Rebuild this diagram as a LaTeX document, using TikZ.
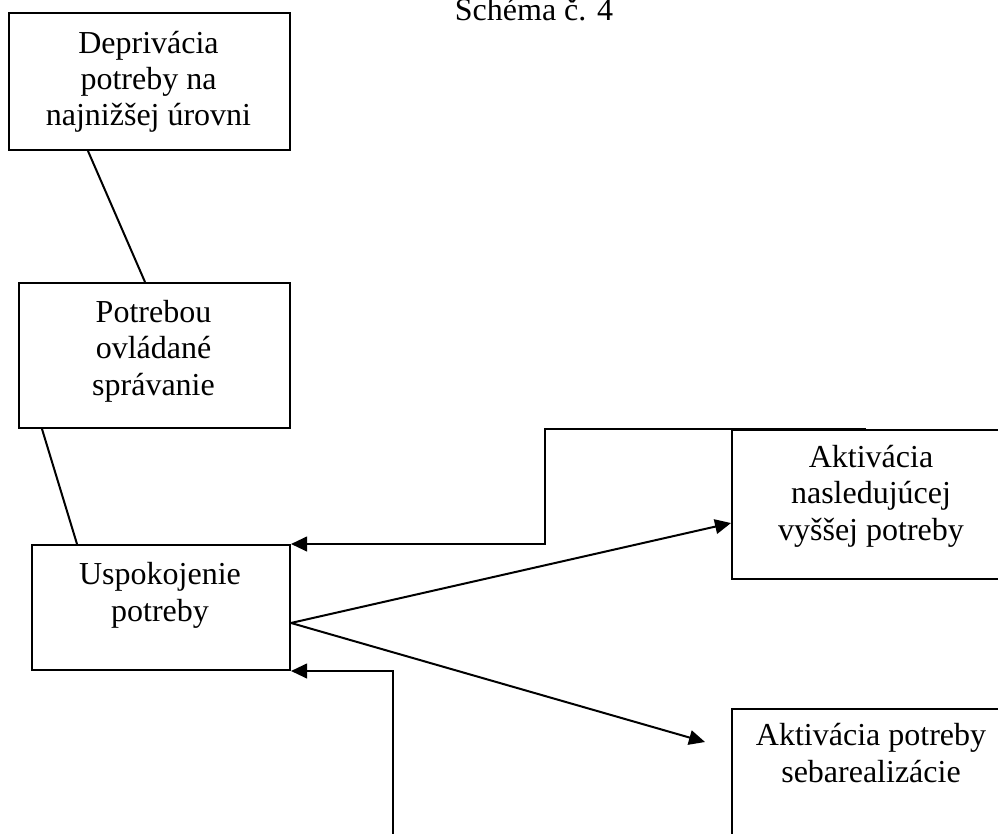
\documentclass[tikz,border=0pt]{standalone}
\usepackage{fontspec}
\setmainfont{Liberation Serif}
\usetikzlibrary{arrows.meta}
\begin{document}
\begin{tikzpicture}[x=0.75pt,y=-0.75pt,
  box/.style={draw,line width=1.5pt,rectangle,inner sep=0pt,anchor=north west},
  txt/.style={align=center,inner sep=0pt,anchor=base,font=\fontsize{24pt}{27.2pt}\selectfont},
  conn/.style={line width=1.5pt},
  arr/.style={line width=1.5pt,-{Triangle[length=12pt,width=11pt]}}]
\useasboundingbox (0,0) rectangle (998,834);
\clip (0,0) rectangle (998,834);
% title
\node[txt] (title) at (534,21) {Schéma č. 4};
% boxes
\node[box,minimum width=210.75pt,minimum height=102.75pt] (b1) at (8,12) {};
\node[box,minimum width=203.25pt,minimum height=108.75pt] (b2) at (18,282) {};
\node[box,minimum width=193.5pt,minimum height=93.75pt] (b3) at (31,544) {};
\node[box,minimum width=210pt,minimum height=111.75pt] (b4) at (731,429) {};
\node[box,minimum width=210pt,minimum height=121.5pt] (b5) at (731,708) {};
% texts (anchor=base sits on the last line's baseline)
\node[txt] (t1) at (148.5,126) {Deprivácia\\potreby na\\najnižšej úrovni};
\node[txt] (t2) at (153.5,395) {Potrebou\\ovládané\\správanie};
\node[txt] (t3) at (160,621) {Uspokojenie\\potreby};
\node[txt] (t4) at (871,540) {Aktivácia\\nasledujúcej\\vyššej potreby};
\node[txt] (t5) at (871,782) {Aktivácia potreby\\sebarealizácie};
% connectors
\draw[conn] ([xshift=60pt]b1.south west) -- ([xshift=95.25pt]b2.north west);
\draw[conn] ([xshift=18pt]b2.south west) -- ([xshift=34.5pt]b3.north west);
\draw[arr] ([yshift=-11.6pt]b3.east) -- ([yshift=-13.9pt]b4.west);
\coordinate (t5tip) at ([xshift=-19.5pt,yshift=-25.5pt]b5.north west);
\draw[arr] ([yshift=-11.6pt]b3.east) -- (t5tip);
\draw[arr] ([xshift=101.25pt]b4.north west) -- ++(-321,0) |- (b3.north east);
\coordinate (bot) at (393,834);
\draw[arr] (bot) |- (b3.south east);
\end{tikzpicture}
\end{document}
